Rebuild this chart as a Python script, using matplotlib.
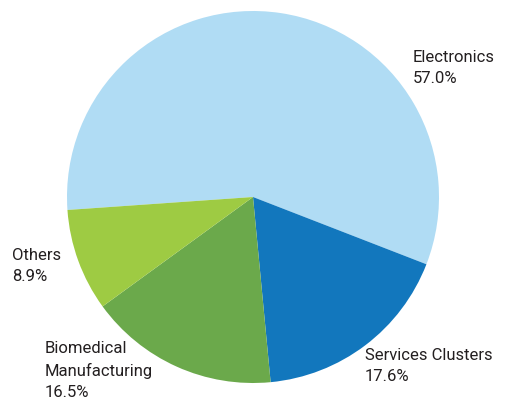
import matplotlib.pyplot as plt

sectors = ["Electronics", "Services Clusters", "Biomedical\nManufacturing", "Others"]
shares = [57.0, 17.6, 16.5, 8.9]
colors = ["#b0dcf4", "#1277bd", "#6ba94b", "#9ecb43"]

plt.rcParams["font.family"] = ["Roboto", "DejaVu Sans"]

W, H = 505, 401
fig = plt.figure(figsize=(W / 100, H / 100), dpi=100)

# square axes around the pie (center 253,197 px, radius 186 px)
cx, cy, r = 253, 197, 186
ax = fig.add_axes([(cx - r) / W, (H - cy - r) / H, 2 * r / W, 2 * r / H])
ax.pie(shares, colors=colors, startangle=184, counterclock=False,
       radius=1.0, wedgeprops=dict(linewidth=0))
ax.set_xlim(-1, 1)
ax.set_ylim(-1, 1)
ax.set_aspect("equal")
ax.axis("off")

# label positions in pixels (left, top)
label_pos = [(413, 50), (365, 348), (45, 341), (12, 248)]
for name, val, (x, y) in zip(sectors, shares, label_pos):
    fig.text(x / W, 1 - y / H, f"{name}\n{val:.1f}%", ha="left", va="top",
             fontsize=12, color="#231f20", linespacing=1.5)

fig.savefig("out.png", dpi=100)
